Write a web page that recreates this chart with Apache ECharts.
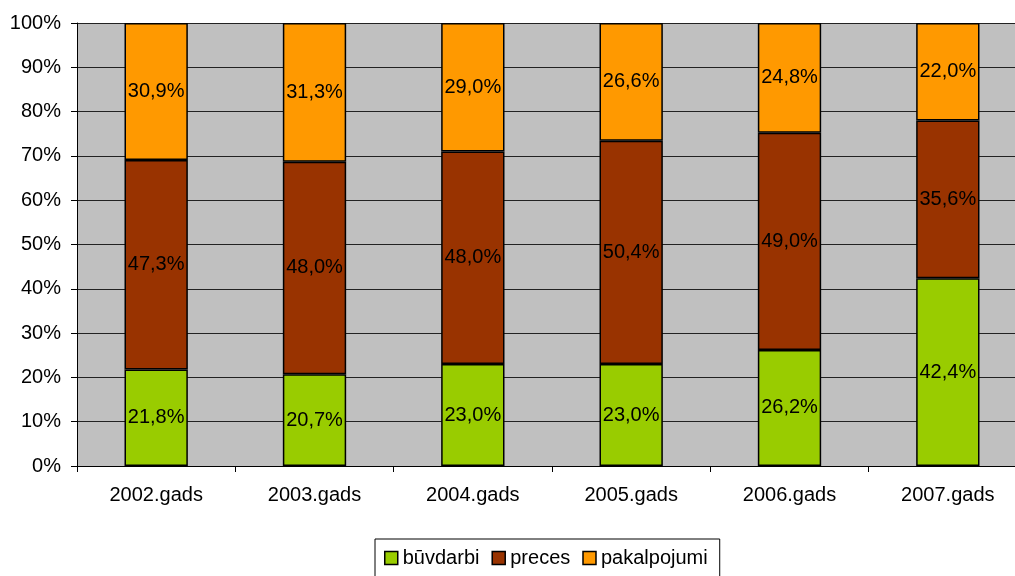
<!DOCTYPE html>
<html><head><meta charset="utf-8">
<script src="https://cdn.jsdelivr.net/npm/echarts@6/dist/echarts.min.js"></script>
<style>html,body{margin:0;padding:0;background:#fff;overflow:hidden}#c{width:1027px;height:576px}</style>
</head><body><div id="c"></div>
<script>
const categories = ['2002.gads','2003.gads','2004.gads','2005.gads','2006.gads','2007.gads'];
const buvdarbi = [21.8, 20.7, 23.0, 23.0, 26.2, 42.4];
const preces = [47.3, 48.0, 48.0, 50.4, 49.0, 35.6];
const pakalpojumi = [30.9, 31.3, 29.0, 26.6, 24.8, 22.0];
const yTicks = [0,10,20,30,40,50,60,70,80,90,100];

const font = 'Liberation Sans, Arial, sans-serif';
const fmt = p => p.value.toFixed(1).replace('.', ',') + '%';
function ser(name, data, color){
  return {name, type:'bar', stack:'s', data, barWidth:'40%',
    itemStyle:{color, borderColor:'#000', borderWidth:1.5},
    label:{show:true, position:'inside', formatter:fmt, color:'#000', fontFamily:font, fontSize:20},
    emphasis:{disabled:true}};
}
const chart = echarts.init(document.getElementById('c'));
chart.setOption({
  animation:false,
  grid:{left:77, right:0, top:23, bottom:110, show:true, backgroundColor:'#C0C0C0', borderWidth:0},
  legend:{bottom:-4, left:375, icon:'rect', itemWidth:13, itemHeight:13, itemGap:12,
    borderColor:'#000', borderWidth:1, padding:[9,12,12,9],
    textStyle:{fontFamily:font, fontSize:20, color:'#000'},
    itemStyle:{borderColor:'#000', borderWidth:1.5},
    data:['būvdarbi','preces','pakalpojumi']},
  xAxis:{type:'category', data:categories,
    axisLine:{lineStyle:{color:'#000', width:1}},
    axisTick:{show:true, length:6, lineStyle:{color:'#000'}},
    axisLabel:{fontFamily:font, fontSize:20, color:'#000', margin:19}},
  yAxis:{type:'value', min:0, max:100, interval:10,
    axisLine:{show:true, lineStyle:{color:'#000'}},
    axisTick:{show:true, length:6, lineStyle:{color:'#000'}},
    splitLine:{show:true, lineStyle:{color:'#222', width:1}},
    axisLabel:{fontFamily:font, fontSize:20, color:'#000', margin:16,
      formatter: v => yTicks.includes(v) ? v + '%' : ''}},
  series:[ser('būvdarbi', buvdarbi, '#99CC00'), ser('preces', preces, '#993300'), ser('pakalpojumi', pakalpojumi, '#FF9900')]
});
</script></body></html>
